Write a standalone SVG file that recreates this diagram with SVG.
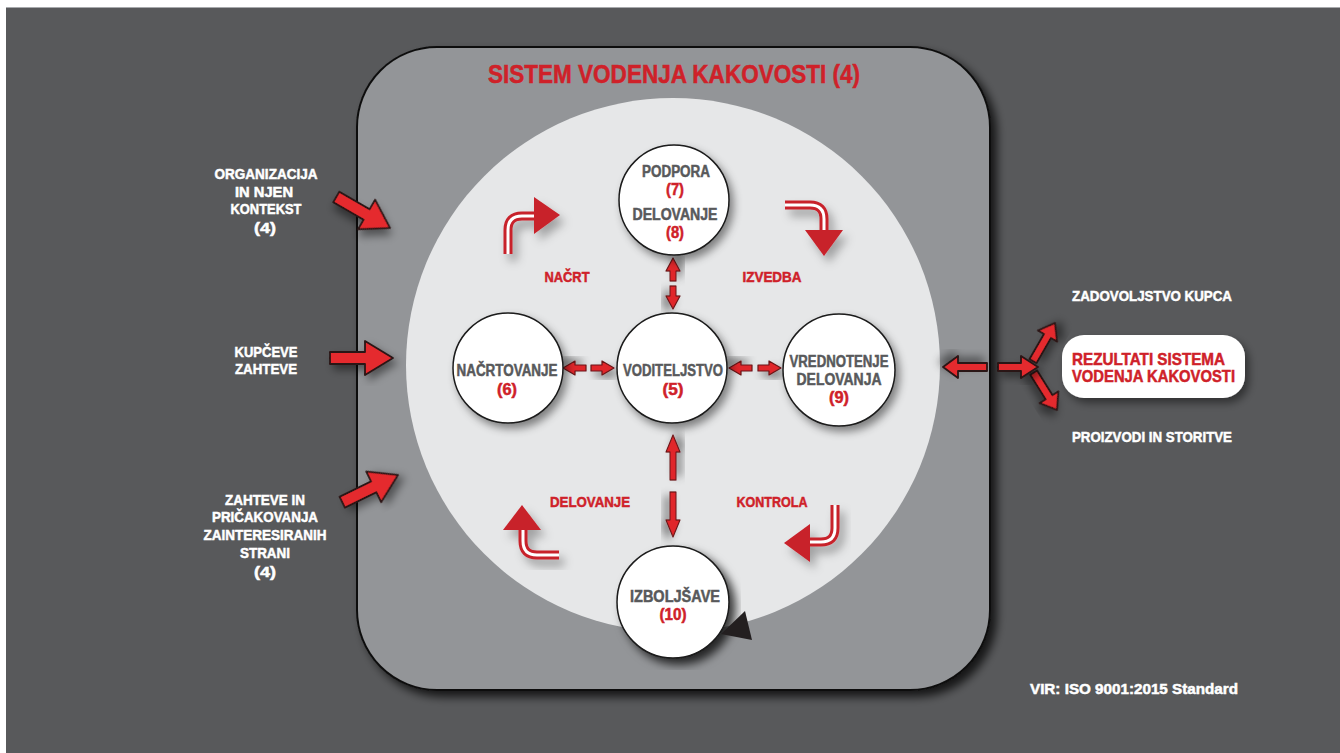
<svg xmlns="http://www.w3.org/2000/svg" width="1340" height="753" viewBox="0 0 1340 753">
<defs>
<filter id="sh" x="-30%" y="-30%" width="160%" height="160%"><feDropShadow dx="4" dy="5" stdDeviation="4" flood-color="#000" flood-opacity="0.45"/></filter>
<filter id="shBig" x="-10%" y="-10%" width="120%" height="120%"><feDropShadow dx="6" dy="6" stdDeviation="5" flood-color="#000" flood-opacity="0.75"/></filter>
<filter id="shSoft" x="-30%" y="-30%" width="160%" height="160%"><feDropShadow dx="5" dy="7" stdDeviation="5" flood-color="#000" flood-opacity="0.3"/></filter>
<style>
text{font-family:"Liberation Sans Narrow","Liberation Sans",Arial,sans-serif;font-weight:bold;stroke-width:0.5px;}
.n{fill:#58595b;stroke:#58595b;font-size:16px;text-anchor:middle;}
.r{fill:#cf2129;stroke:#cf2129;font-size:16px;text-anchor:middle;}
.rl{fill:#cf2129;stroke:#cf2129;font-size:15px;text-anchor:middle;}
.w{fill:#ffffff;stroke:#ffffff;font-size:15px;text-anchor:middle;}
.ws{fill:#ffffff;stroke:#ffffff;font-size:15px;text-anchor:start;}
.rt{fill:#cf2129;stroke:#cf2129;font-size:17px;}
.node{fill:#ffffff;stroke:#1a1a1a;stroke-width:1.5;filter:url(#sh);}
.blk{fill:#e52a2f;stroke:#2b1414;stroke-width:1.8;stroke-linejoin:round;filter:url(#sh);}
.sm{fill:#e0262b;stroke:#6b1518;stroke-width:1.2;stroke-linejoin:round;filter:url(#sh);}
.bendOut{fill:none;stroke:#c8202a;stroke-width:9;}
.bendIn{fill:none;stroke:#ffffff;stroke-width:3;}
.head{fill:#c8202a;}
</style>
</defs>
<rect x="0" y="0" width="1340" height="753" fill="#ffffff"/>
<rect x="6" y="7" width="1334" height="746" fill="#58595b"/>
<line x1="6" y1="7.5" x2="1340" y2="7.5" stroke="#a7a9ac" stroke-width="1"/>

<g id="system">
<rect x="357" y="47" width="633" height="643" rx="80" ry="80" fill="#939598" stroke="#111" stroke-width="2" filter="url(#shBig)"/>
<circle cx="673" cy="365" r="267" fill="#e6e7e8"/>
<text x="674" y="83" style="fill:#cf2129;stroke:#cf2129;font-size:25px;text-anchor:middle" textLength="372" lengthAdjust="spacingAndGlyphs">SISTEM VODENJA KAKOVOSTI (4)</text>
</g>

<g id="cycle-arrows">
<g filter="url(#shSoft)">
<path class="bendOut" d="M508 254 V230 Q508 216 522 216 H537"/>
<path class="bendIn" d="M508 254 V230 Q508 216 522 216 H537"/>
<polygon class="head" points="534,197 560,215 534,234"/>
</g>
<g filter="url(#shSoft)">
<path class="bendOut" d="M785 205 H810 Q824 205 824 219 V232"/>
<path class="bendIn" d="M785 205 H810 Q824 205 824 219 V232"/>
<polygon class="head" points="805,230 843,230 824,256"/>
</g>
<g filter="url(#shSoft)">
<path class="bendOut" d="M559 555 H537 Q523 555 523 541 V528"/>
<path class="bendIn" d="M559 555 H537 Q523 555 523 541 V528"/>
<polygon class="head" points="503,530 541,530 522,505"/>
</g>
<g filter="url(#shSoft)">
<path class="bendOut" d="M835 505 V528 Q835 542 821 542 H808"/>
<path class="bendIn" d="M835 505 V528 Q835 542 821 542 H808"/>
<polygon class="head" points="810,524 810,562 784,543"/>
</g>
<text class="rl" x="567" y="282" textLength="45" lengthAdjust="spacingAndGlyphs">NAČRT</text>
<text class="rl" x="772" y="282" textLength="59" lengthAdjust="spacingAndGlyphs">IZVEDBA</text>
<text class="rl" x="590" y="507" textLength="80" lengthAdjust="spacingAndGlyphs">DELOVANJE</text>
<text class="rl" x="772" y="507" textLength="71" lengthAdjust="spacingAndGlyphs">KONTROLA</text>
</g>

<g id="connectors">
<path class="sm" transform="translate(673,258) rotate(-90)" d="M0 0 L-13 -7 L-13 -3 L-23 -3 L-23 3 L-13 3 L-13 7 Z"/>
<path class="sm" transform="translate(673,309) rotate(90)" d="M0 0 L-13 -7 L-13 -3 L-23 -3 L-23 3 L-13 3 L-13 7 Z"/>
<path class="sm" transform="translate(563,368) rotate(180)" d="M0 0 L-12 -7 L-12 -3 L-23 -3 L-23 3 L-12 3 L-12 7 Z"/>
<path class="sm" transform="translate(614,368)" d="M0 0 L-12 -7 L-12 -3 L-23 -3 L-23 3 L-12 3 L-12 7 Z"/>
<path class="sm" transform="translate(729,368) rotate(180)" d="M0 0 L-12 -7 L-12 -3 L-23 -3 L-23 3 L-12 3 L-12 7 Z"/>
<path class="sm" transform="translate(781,368)" d="M0 0 L-12 -7 L-12 -3 L-23 -3 L-23 3 L-12 3 L-12 7 Z"/>
<path class="sm" transform="translate(673,435) rotate(-90)" d="M0 0 L-17 -7 L-17 -3 L-45 -3 L-45 3 L-17 3 L-17 7 Z"/>
<path class="sm" transform="translate(673,537) rotate(90)" d="M0 0 L-17 -7 L-17 -3 L-45 -3 L-45 3 L-17 3 L-17 7 Z"/>
<path class="blk" transform="translate(390,228) rotate(30)" d="M0 0 L-27 -17 L-27 -6 L-62 -6 L-62 6 L-27 6 L-27 17 Z"/>
<path class="blk" transform="translate(393,358)" d="M0 0 L-28 -17 L-28 -6 L-63 -6 L-63 6 L-28 6 L-28 17 Z"/>
<path class="blk" transform="translate(398,475) rotate(-26)" d="M0 0 L-27 -17 L-27 -6 L-62 -6 L-62 6 L-27 6 L-27 17 Z"/>
<path class="blk" transform="translate(943,367) rotate(180)" d="M0 0 L-15 -11 L-15 -4 L-44 -4 L-44 4 L-15 4 L-15 11 Z"/>
<path class="blk" transform="translate(1055,323) rotate(-60)" d="M0 0 L-15 -11 L-15 -4 L-44 -4 L-44 4 L-15 4 L-15 11 Z"/>
<path class="blk" transform="translate(1057,410) rotate(58)" d="M0 0 L-15 -11 L-15 -4 L-44 -4 L-44 4 L-15 4 L-15 11 Z"/>
<path class="blk" transform="translate(1038,367)" d="M0 0 L-17 -11 L-17 -4 L-40 -4 L-40 4 L-17 4 L-17 11 Z"/>
</g>

<g id="node-podpora">
<circle class="node" cx="674" cy="200" r="55"/>
<text class="n" x="676" y="177" textLength="68" lengthAdjust="spacingAndGlyphs">PODPORA</text>
<text class="r" x="675" y="195" textLength="18" lengthAdjust="spacingAndGlyphs">(7)</text>
<text class="n" x="675" y="220" textLength="85" lengthAdjust="spacingAndGlyphs">DELOVANJE</text>
<text class="r" x="675" y="238" textLength="18" lengthAdjust="spacingAndGlyphs">(8)</text>
</g>
<g id="node-nacrtovanje">
<circle class="node" cx="508" cy="368" r="55"/>
<text class="n" x="507" y="376" textLength="101" lengthAdjust="spacingAndGlyphs">NAČRTOVANJE</text>
<text class="r" x="507" y="395" textLength="20" lengthAdjust="spacingAndGlyphs">(6)</text>
</g>
<g id="node-voditeljstvo">
<circle class="node" cx="672" cy="368" r="55"/>
<text class="n" x="673" y="376" textLength="100" lengthAdjust="spacingAndGlyphs">VODITELJSTVO</text>
<text class="r" x="673" y="395" textLength="21" lengthAdjust="spacingAndGlyphs">(5)</text>
</g>
<g id="node-vrednotenje">
<circle class="node" cx="839" cy="370" r="56"/>
<text class="n" x="839" y="367" textLength="99" lengthAdjust="spacingAndGlyphs">VREDNOTENJE</text>
<text class="n" x="839" y="385" textLength="85" lengthAdjust="spacingAndGlyphs">DELOVANJA</text>
<text class="r" x="839" y="403" textLength="20" lengthAdjust="spacingAndGlyphs">(9)</text>
</g>
<g id="node-izboljsave">
<circle class="node" cx="673" cy="602" r="56" style="filter:url(#shBig)"/>
<polygon points="745,611 752,640 721,634" fill="#231f20"/>
<text class="n" x="675" y="602" textLength="90" lengthAdjust="spacingAndGlyphs">IZBOLJŠAVE</text>
<text class="r" x="673" y="620" textLength="27" lengthAdjust="spacingAndGlyphs">(10)</text>
</g>

<g id="input-organizacija">
<text class="w" x="266" y="179" textLength="103" lengthAdjust="spacingAndGlyphs">ORGANIZACIJA</text>
<text class="w" x="264" y="197" textLength="58" lengthAdjust="spacingAndGlyphs">IN NJEN</text>
<text class="w" x="266" y="214" textLength="71" lengthAdjust="spacingAndGlyphs">KONTEKST</text>
<text class="w" x="265" y="233" textLength="22" lengthAdjust="spacingAndGlyphs">(4)</text>
</g>
<g id="input-kupceve">
<text class="w" x="266" y="357" textLength="63" lengthAdjust="spacingAndGlyphs">KUPČEVE</text>
<text class="w" x="266" y="374" textLength="62" lengthAdjust="spacingAndGlyphs">ZAHTEVE</text>
</g>
<g id="input-zahteve">
<text class="w" x="265" y="505" textLength="80" lengthAdjust="spacingAndGlyphs">ZAHTEVE IN</text>
<text class="w" x="265" y="522" textLength="106" lengthAdjust="spacingAndGlyphs">PRIČAKOVANJA</text>
<text class="w" x="265" y="540" textLength="123" lengthAdjust="spacingAndGlyphs">ZAINTERESIRANIH</text>
<text class="w" x="265" y="558" textLength="50" lengthAdjust="spacingAndGlyphs">STRANI</text>
<text class="w" x="265" y="577" textLength="22" lengthAdjust="spacingAndGlyphs">(4)</text>
</g>

<g id="output-zadovoljstvo">
<text class="ws" x="1072" y="301" textLength="160" lengthAdjust="spacingAndGlyphs">ZADOVOLJSTVO KUPCA</text>
</g>
<g id="output-rezultati">
<rect x="1062" y="335" width="183" height="63" rx="22" ry="22" fill="#ffffff" filter="url(#sh)"/>
<text class="rt" x="1072" y="365" textLength="153" lengthAdjust="spacingAndGlyphs">REZULTATI SISTEMA</text>
<text class="rt" x="1072" y="382" textLength="163" lengthAdjust="spacingAndGlyphs">VODENJA KAKOVOSTI</text>
</g>
<g id="output-proizvodi">
<text class="ws" x="1072" y="442" textLength="160" lengthAdjust="spacingAndGlyphs">PROIZVODI IN STORITVE</text>
</g>

<g id="source">
<text class="ws" x="1030" y="694" textLength="208" lengthAdjust="spacingAndGlyphs">VIR: ISO 9001:2015 Standard</text>
</g>
</svg>
